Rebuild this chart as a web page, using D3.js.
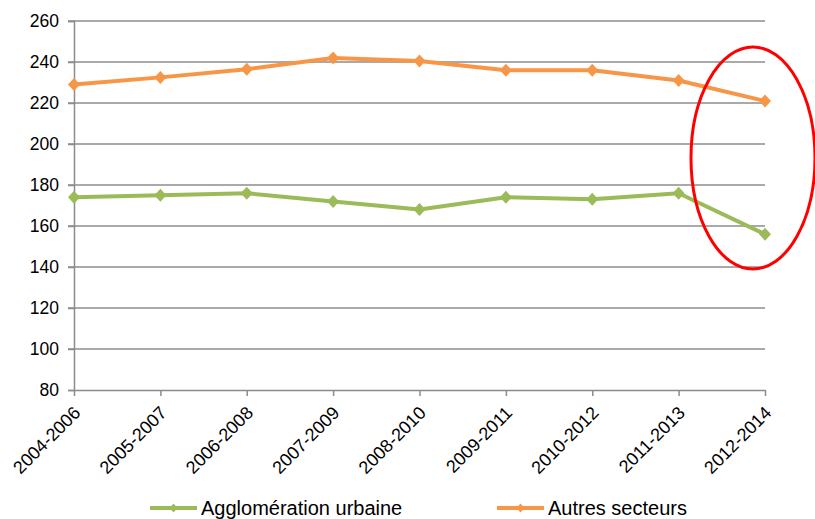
<!DOCTYPE html>
<html><head><meta charset="utf-8">
<script src="https://cdn.jsdelivr.net/npm/d3@7"></script>
<style>body{margin:0;background:#fff}svg{display:block}text{font-family:"Liberation Sans",Arial,sans-serif;fill:#000}</style>
</head><body>
<svg id="c" width="815" height="519"></svg>
<script>
const categories = ["2004-2006","2005-2007","2006-2008","2007-2009","2008-2010","2009-2011","2010-2012","2011-2013","2012-2014"];
const agglo = [174, 175, 176, 172, 168, 174, 173, 176, 156];
const autres = [229, 232.5, 236.5, 242, 240.5, 236, 236, 231, 221];
const yTicks = [80,100,120,140,160,180,200,220,240,260];
const seriesNames = ["Agglomération urbaine","Autres secteurs"];
const colors = ["#9BBB59","#F79646"];

const svg = d3.select("#c");
const x = d3.scalePoint().domain(categories).range([74, 765]);
const y = d3.scaleLinear().domain([80, 260]).range([390, 21]);

const diamond = (w, h) => `M0,${-h}L${w},0L0,${h}L${-w},0Z`;

// gridlines
svg.append("g").selectAll("line").data(yTicks.slice(1)).join("line")
  .attr("x1", 68).attr("x2", 765).attr("y1", d => y(d)).attr("y2", d => y(d))
  .attr("stroke", "#8c8c8c").attr("stroke-width", 1.5);

// y axis
const ya = svg.append("g").attr("transform", "translate(74,0)")
  .call(d3.axisLeft(y).tickValues(yTicks).tickSize(6).tickPadding(9));
ya.select(".domain").attr("stroke", "#8c8c8c").attr("stroke-width", 1.5);
ya.selectAll(".tick line").attr("stroke", "#8c8c8c").attr("stroke-width", 1.5);
ya.selectAll("text").style("font-size", "17.5px").attr("fill", "#000");

// x axis
const xa = svg.append("g").attr("transform", "translate(0,390)")
  .call(d3.axisBottom(x).tickSize(6).tickPadding(4).tickSizeOuter(0));
xa.select(".domain").attr("stroke", "#8c8c8c").attr("stroke-width", 1.5);
xa.selectAll(".tick line").attr("stroke", "#8c8c8c").attr("stroke-width", 1.5);
xa.selectAll("text").style("font-size", "18px").attr("fill", "#000")
  .attr("text-anchor", "end").attr("dy", null)
  .attr("transform", "translate(7,24) rotate(-45)").attr("y", 0).attr("x", 0);

// lines
const line = d3.line().x((d, i) => x(categories[i])).y(d => y(d));
[agglo, autres].forEach((s, k) => {
  svg.append("path").datum(s).attr("d", line).attr("fill", "none")
    .attr("stroke", colors[k]).attr("stroke-width", 4).attr("stroke-linejoin", "round");
  svg.append("g").selectAll("path").data(s).join("path")
    .attr("d", diamond(6, 6.5))
    .attr("transform", (d, i) => `translate(${x(categories[i])},${y(d)})`)
    .attr("fill", colors[k]);
});

// red ellipse
svg.append("ellipse").attr("cx", 753).attr("cy", 158).attr("rx", 62).attr("ry", 111)
  .attr("fill", "none").attr("stroke", "#FF0000").attr("stroke-width", 3);

// legend
const legX = [150, 497];
seriesNames.forEach((n, k) => {
  const g = svg.append("g").attr("transform", `translate(${legX[k]},508)`);
  g.append("line").attr("x1", 0).attr("x2", 47).attr("y1", 0).attr("y2", 0)
    .attr("stroke", colors[k]).attr("stroke-width", 4);
  g.append("path").attr("d", diamond(4, 4.5)).attr("transform", "translate(23.5,0)")
    .attr("fill", colors[k]);
  g.append("text").attr("x", 51).attr("y", 7).style("font-size", "20px").text(n);
});
</script>
</body></html>
